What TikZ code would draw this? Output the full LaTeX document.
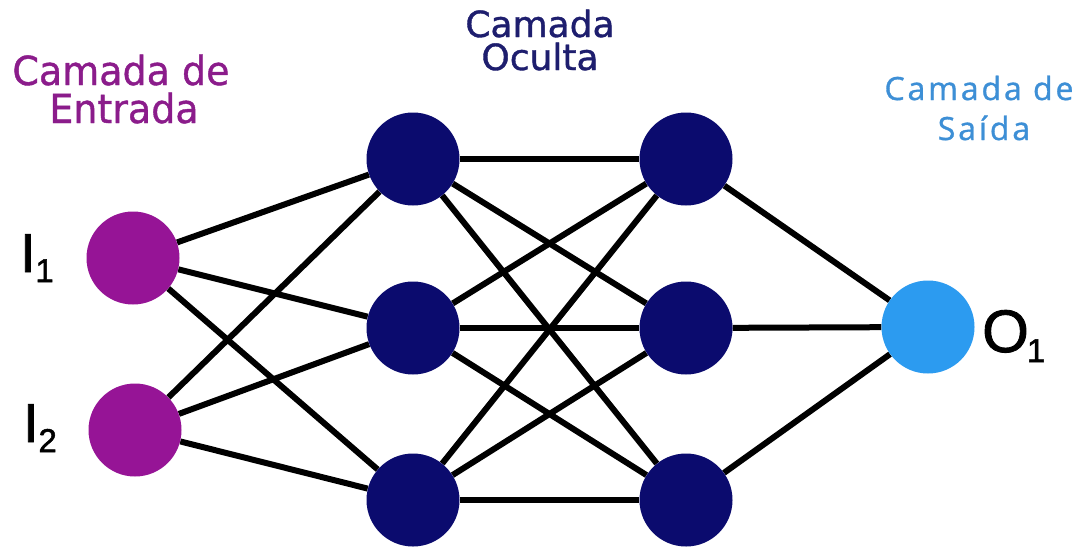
\documentclass[tikz,border=0pt]{standalone}
\usepackage{fontspec}
\usetikzlibrary{backgrounds}
\newfontfamily\entfont[FakeStretch=0.95,FakeBold=1]{DejaVu Sans}
\newfontfamily\ocufont[FakeBold=1]{DejaVu Sans}
\newfontfamily\saifont[LetterSpace=9,FakeBold=1]{Open Sans}
\newfontfamily\arialfont[FakeBold=1.5]{Liberation Sans}
\definecolor{inpurple}{HTML}{961496}
\definecolor{labpurple}{HTML}{8B1C8B}
\definecolor{hidnavy}{HTML}{0B0B6E}
\definecolor{labnavy}{HTML}{1E1E6E}
\definecolor{outblue}{HTML}{2C9BF0}
\definecolor{labblue}{HTML}{3D8FD6}
\tikzset{
  neuron/.style={circle, minimum size=93pt, inner sep=0pt, draw=none},
  inneuron/.style={neuron, fill=inpurple},
  hidneuron/.style={neuron, fill=hidnavy},
  outneuron/.style={neuron, fill=outblue},
  conn/.style={line width=6pt, black},
  lab/.style={inner sep=0pt, anchor=base},
  entlab/.style={lab, text=labpurple, font=\entfont\fontsize{40}{40}\selectfont},
  oculab/.style={lab, text=labnavy, font=\ocufont\fontsize{36}{36}\selectfont},
  sailab/.style={lab, text=labblue, font=\saifont\fontsize{32}{32}\selectfont},
  iolab/.style={inner sep=0pt, anchor=base west, text=black},
}
\begin{document}
\begin{tikzpicture}[x=1pt,y=-1pt]
\useasboundingbox (0,0) rectangle (1091,547);
% neurons
\node[inneuron] (i1) at (133,258) {};
\node[inneuron] (i2) at (135,430) {};
\node[hidneuron] (a1) at (413,159) {};
\node[hidneuron] (a2) at (413,328) {};
\node[hidneuron] (a3) at (413,500) {};
\node[hidneuron] (b1) at (686,159) {};
\node[hidneuron] (b2) at (686,328) {};
\node[hidneuron] (b3) at (686,500) {};
\node[outneuron] (o1) at (928,327) {};
% connections
\begin{scope}[on background layer]
\fill[white] (0,0) rectangle (1091,547);
\foreach \s in {i1,i2}{\foreach \t in {a1,a2,a3}{\draw[conn] (\s) -- (\t);}}
\foreach \s in {a1,a2,a3}{\foreach \t in {b1,b2,b3}{\draw[conn] (\s) -- (\t);}}
\foreach \s in {b1,b2,b3}{\draw[conn] (\s) -- (o1);}
\end{scope}
% layer labels
\node[entlab] (e1) at (121,85) {Camada de};
\node[entlab] (e2) at (124,123) {Entrada};
\node[oculab] (h1) at (540,37) {Camada};
\node[oculab] (h2) at (540,70) {Oculta};
\node[sailab] (s1) at (979,100) {Camada de};
\node[sailab] (s2) at (984,140) {Saída};
% neuron labels
\node[iolab, font=\arialfont\fontsize{55}{55}\selectfont] (li1) at (20,272) {I\raisebox{-10pt}{\fontsize{33}{33}\selectfont 1}};
\node[iolab, font=\arialfont\fontsize{55}{55}\selectfont] (li2) at (23,442) {I\raisebox{-10pt}{\fontsize{33}{33}\selectfont 2}};
\node[iolab, font=\arialfont\fontsize{60}{60}\selectfont] (lo1) at (982,352) {O\kern-2pt\raisebox{-10pt}{\fontsize{33}{33}\selectfont 1}};
\end{tikzpicture}
\end{document}
